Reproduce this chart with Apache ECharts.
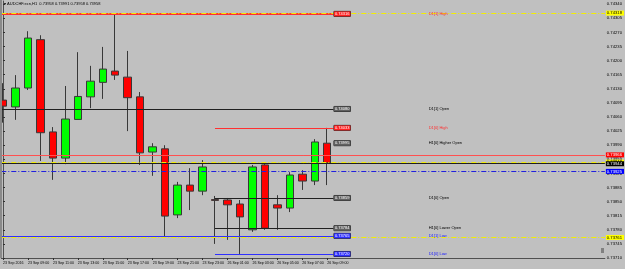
<!DOCTYPE html>
<html><head><meta charset="utf-8">
<script src="https://cdn.jsdelivr.net/npm/echarts@6/dist/echarts.min.js"></script>
<style>html,body{margin:0;padding:0;background:#c0c0c0}#c{width:625px;height:269px}</style>
</head><body><div id="c"></div><script>
const categories = ['23 Sep 2016','23 Sep 08:00','23 Sep 09:00','23 Sep 10:00','23 Sep 11:00','23 Sep 12:00','23 Sep 13:00','23 Sep 14:00','23 Sep 15:00','23 Sep 16:00','23 Sep 17:00','23 Sep 18:00','23 Sep 19:00','23 Sep 20:00','23 Sep 21:00','23 Sep 22:00','23 Sep 23:00','26 Sep 00:00','26 Sep 01:00','26 Sep 02:00','26 Sep 03:00','26 Sep 04:00','26 Sep 05:00','26 Sep 06:00','26 Sep 07:00','26 Sep 08:00','26 Sep 09:00'];
const opens  = [0.74102,0.74085,0.74132,0.74252,0.74023,0.73958,0.74054,0.74110,0.74146,0.74174,0.74159,0.74110,0.73973,0.73981,0.73817,0.73891,0.73876,0.73855,0.73854,0.73844,0.73780,0.73941,0.73842,0.73834,0.73918,0.73901,0.73995];
const closes = [0.74087,0.74132,0.74256,0.74021,0.73958,0.74055,0.74111,0.74149,0.74179,0.74164,0.74108,0.73971,0.73986,0.73814,0.73891,0.73876,0.73936,0.73853,0.73842,0.73812,0.73936,0.73784,0.73834,0.73916,0.73901,0.73998,0.73946];
const lows   = [0.74046,0.74053,0.74127,0.73951,0.73904,0.73943,0.74054,0.74082,0.74105,0.74152,0.74025,0.73941,0.73914,0.73762,0.73809,0.73829,0.73866,0.73745,0.73755,0.73720,0.73775,0.73780,0.73780,0.73824,0.73879,0.73891,0.73891];
const highs  = [0.74144,0.74164,0.74273,0.74263,0.74035,0.74137,0.74221,0.74187,0.74234,0.74316,0.74224,0.74122,0.73995,0.73990,0.73899,0.73933,0.73953,0.73864,0.73859,0.73854,0.73941,0.73948,0.73866,0.73923,0.73928,0.74005,0.74033];
const tickIndices = [0,2,4,6,8,10,12,14,16,18,20,22,24,26];
const yMin = 0.73710, yStep = 0.00035, yMax = 0.74348;
const titleText = 'AUDCHF.ecn,H1  0.73958 0.73991 0.73958 0.73958';

const levelNames  = ['D1[1] High','D1[1] Open','D1[0] High','H1[0] Higher Open','D1[0] Open','H1[0] Lower Open','D1[1] Low','D1[0] Low'];
const levelValues = [0.74316,0.74080,0.74033,0.73995,0.73859,0.73784,0.73765,0.73720];
const yellowLevels = [0.74318,0.73948,0.73761];
const redLevel = 0.73966;
const bidLevel = 0.73944;
const blueLevel = 0.73925;

// x scale in bar-index units (chart shifted left so the first bar is cut by the frame)
const xMin = -0.136, xMax = 48.264;
const ohlc = opens.map((o,i)=>[i, o, closes[i], lows[i], highs[i]]);
const dayStart = categories.indexOf('26 Sep 00:00');
const lastEdge = categories.length - 0.5;
const descX = 34.1;

const kind = {
  'D1[1] High': {color:'#ff3030', box:'#ff2020', txt:'#ff3030', from:xMin, width:2, line:true},
  'D1[1] Open': {color:'#202020', box:'#606060', txt:'#000000', from:xMin, width:1, line:true},
  'D1[0] High': {color:'#ff3030', box:'#ff2020', txt:'#ff3030', from:dayStart, width:1, line:true},
  'H1[0] Higher Open': {color:'#202020', box:'#606060', txt:'#000000', from:lastEdge, width:1, line:false},
  'D1[0] Open': {color:'#202020', box:'#606060', txt:'#000000', from:dayStart, width:1, line:true},
  'H1[0] Lower Open': {color:'#202020', box:'#606060', txt:'#000000', from:dayStart, width:1, line:true},
  'D1[1] Low': {color:'#3030ff', box:'#3030ff', txt:'#2020ff', from:xMin, width:1, line:true},
  'D1[0] Low': {color:'#3030ff', box:'#3030ff', txt:'#2020ff', from:dayStart, width:1, line:true}
};

const fmt = v => v.toFixed(5);
const mlData = [];
const mpData = [];
levelNames.forEach((name,i)=>{
  const k = kind[name], v = levelValues[i];
  if (k.line) mlData.push([{coord:[k.from, v], lineStyle:{color:k.color, width:k.width, type:'solid'}, label:{show:false}}, {coord:[lastEdge, v]}]);
  mpData.push({coord:[lastEdge, v], symbol:'rect', symbolSize:1, itemStyle:{color:'rgba(0,0,0,0)'},
    label:{show:true, position:'right', distance:0, formatter:fmt(v), fontSize:4, color:'#ffffff', backgroundColor:k.box, borderColor:'#202020', borderWidth:0.5, padding:[1,1,0,1], fontFamily:'Liberation Sans'}});
  mpData.push({coord:[descX, v], symbol:'rect', symbolSize:1, itemStyle:{color:'rgba(0,0,0,0)'},
    label:{show:true, position:'right', distance:0, formatter:name, fontSize:4, color:k.txt, fontFamily:'Liberation Sans'}});
});
function axisLine(v, color, type, width, bg, fg){
  mlData.push([{coord:[xMin, v], lineStyle:{color:color, type:type, width:width},
    label:{show:true, position:'end', distance:1, formatter:fmt(v), fontSize:4.2, color:fg, backgroundColor:bg, padding:[1,2,0,1], fontFamily:'Liberation Sans'}}, {coord:[xMax, v]}]);
}
yellowLevels.forEach(v=>axisLine(v, '#f2ee00', [5,2,1,2], 1, '#ffff00', '#000'));
axisLine(redLevel, '#ff5050', 'solid', 1, '#ff0000', '#fff');
axisLine(bidLevel, '#202020', 'solid', 1, '#000000', '#fff');
axisLine(blueLevel, '#2020e0', [5,2,1,2], 1, '#0000ff', '#fff');

const chart = echarts.init(document.getElementById('c'), null, {renderer:'canvas'});
chart.setOption({
  animation:false,
  backgroundColor:'#c0c0c0',
  grid:{left:0, right:20, top:1, bottom:11, containLabel:false},
  xAxis:{
    type:'value', min:xMin, max:xMax,
    axisLine:{show:true, lineStyle:{color:'#505050', width:1}},
    axisTick:{show:true, customValues:tickIndices, length:2, lineStyle:{color:'#303030'}},
    axisLabel:{customValues:tickIndices, formatter:v=>categories[Math.round(v)]||'', align:'left', fontSize:3.6, color:'#000', margin:3, fontFamily:'Liberation Sans'},
    splitLine:{show:false}
  },
  yAxis:{
    type:'value', position:'right', min:yMin, max:yMax, interval:yStep, scale:true,
    axisLine:{show:true, lineStyle:{color:'#505050', width:1}},
    axisTick:{show:true, length:2, lineStyle:{color:'#303030'}},
    axisLabel:{fontSize:4.2, color:'#000', margin:2, formatter:fmt, showMaxLabel:false, fontFamily:'Liberation Sans'},
    splitLine:{show:false}
  },
  series:[{
    type:'candlestick', data:ohlc, encode:{x:0, y:[1,2,3,4]}, barWidth:8, barMaxWidth:8, z:3, clip:true,
    itemStyle:{color:'#00ff00', color0:'#ff0000', borderColor:'#383838', borderColor0:'#383838', borderColorDoji:'#383838', borderWidth:1}
  },{
    type:'scatter', data:[], z:4,
    markLine:{silent:true, symbol:['none','none'], data:mlData, animation:false},
    markPoint:{silent:true, data:mpData, animation:false}
  }],
  graphic:[
    {type:'rect', shape:{x:0,y:0,width:2,height:258}, style:{fill:'#8a8a8a'}, silent:true, z:10},
    {type:'text', left:4, top:2, style:{text:'\u25BE '+titleText, fontSize:4, fill:'#000', fontFamily:'Liberation Sans'}},
    {type:'rect', shape:{x:601,y:248,width:3,height:5}, style:{fill:'#808080'}, silent:true}
  ]
});
</script></body></html>
